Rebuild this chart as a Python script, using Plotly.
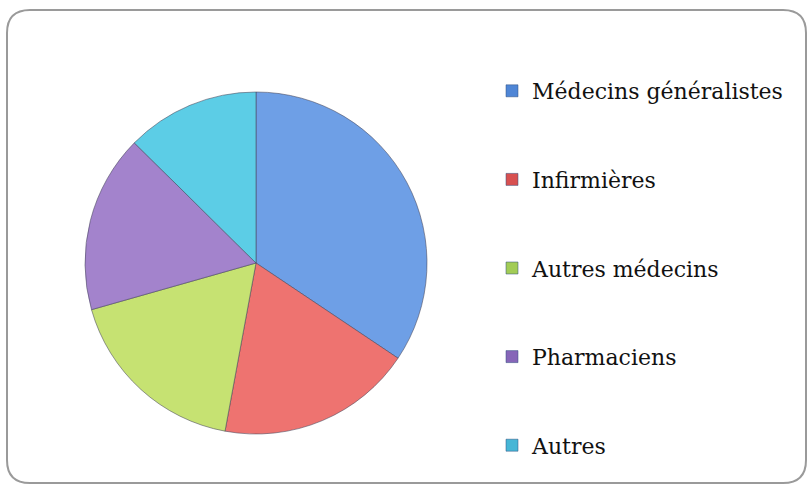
import plotly.graph_objects as go

categories = ["Médecins généralistes", "Infirmières", "Autres médecins", "Pharmaciens", "Autres"]
values = [34.4, 18.5, 17.7, 16.8, 12.6]
colors = ["#6E9FE6", "#EE7370", "#C6E272", "#A383CC", "#5CCDE6"]
legend_colors = ["#4F86D6", "#D85050", "#A2CC56", "#8666B8", "#46B6D6"]

fig = go.Figure()
fig.add_trace(go.Pie(
    labels=categories, values=values, sort=False, direction="clockwise",
    rotation=0, textinfo="none", showlegend=False,
    marker=dict(colors=colors, line=dict(color="rgba(70,70,90,0.55)", width=1)),
    domain=dict(x=[85/809, 427/809], y=[1-434/486, 1-92/486]),
))
for i, (c, lc) in enumerate(zip(categories, legend_colors)):
    fig.add_trace(go.Scatter(
        x=[None], y=[None], mode="markers", name=c, legendgroup=f"g{i}",
        marker=dict(symbol="square", size=12, color=lc,
                    line=dict(color="#2f4f7f", width=0.5)),
    ))

fig.update_layout(
    width=809, height=486,
    margin=dict(l=0, r=0, t=0, b=0),
    paper_bgcolor="white", plot_bgcolor="white",
    xaxis=dict(visible=False), yaxis=dict(visible=False),
    legend=dict(
        x=492/809, y=1-70/486, xanchor="left", yanchor="top",
        font=dict(family="DejaVu Serif", size=22, color="#111"),
        tracegroupgap=57, traceorder="grouped",
        bgcolor="rgba(0,0,0,0)",
    ),
    shapes=[dict(
        type="path", xref="paper", yref="paper",
        path=("M {l},{t1} Q {l},{t} {l1},{t} L {r1},{t} Q {r},{t} {r},{t1} "
              "L {r},{b1} Q {r},{b} {r1},{b} L {l1},{b} Q {l},{b} {l},{b1} Z").format(
            l=7/809, r=806/809, t=1-10/486, b=1-483/486,
            l1=30/809, r1=783/809, t1=1-33/486, b1=1-460/486),
        line=dict(color="#9a9a9a", width=2), layer="below",
    )],
)
fig.write_html("out.html", config={"displayModeBar": False},
               post_script="document.body.style.margin='0';document.body.style.overflow='hidden';")
